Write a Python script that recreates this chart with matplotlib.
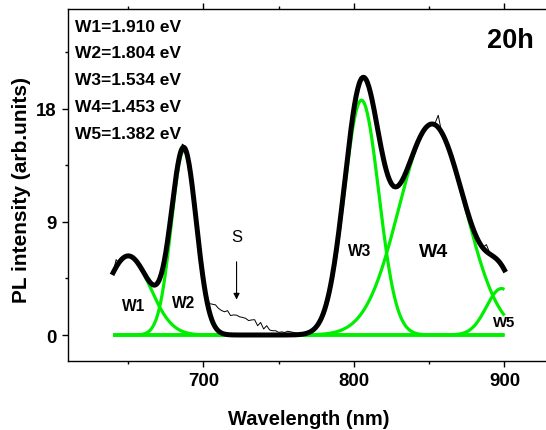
import numpy as np
import matplotlib
matplotlib.use("Agg")
import matplotlib.pyplot as plt

plt.rcParams['font.family'] = ['Liberation Sans', 'DejaVu Sans']

# Gaussian components of the fit (center nm, amplitude, sigma nm)
labels = ["W1", "W2", "W3", "W4", "W5"]
energies = ["1.910", "1.804", "1.534", "1.453", "1.382"]
centers = [650, 687, 805, 852, 898]
amps = [6.3, 14.7, 18.7, 16.8, 3.7]
sigmas = [14.5, 8.3, 11.5, 22.0, 10.0]

# measured spectrum (thin line), every 2 nm from 640 to 900
raw_wl = list(range(640, 901, 2))
raw_pl = [5.0, 6.0, 5.7, 6.1, 6.35, 6.35, 6.25, 6.05, 5.75, 5.45,
          5.0, 4.6, 4.25, 4.0, 3.95, 4.2, 4.85, 5.9, 7.35, 9.1,
          11.0, 12.8, 14.3, 15.2, 15.0, 14.0, 12.4, 10.3, 8.2, 6.1,
          4.4, 3.1, 2.5, 2.45, 2.4, 2.12, 1.95, 1.85, 1.94, 1.55,
          1.6, 1.58, 1.45, 1.4, 1.33, 1.15, 1.2, 1.22, 0.74, 1.0,
          0.48, 0.74, 0.4, 0.34, 0.34, 0.21, 0.25, 0.2, 0.3, 0.25,
          0.2, 0.15, 0.1, 0.08, 0.1, 0.18, 0.31, 0.52, 0.81, 1.25,
          1.84, 2.64, 3.67, 4.96, 6.51, 8.3, 10.28, 12.35, 14.43, 16.36,
          18.04, 19.6, 20.5, 20.55, 20.35, 19.73, 18.75, 17.55, 16.24, 14.96,
          13.82, 12.9, 12.2, 11.7, 11.75, 11.95, 12.3, 12.8, 13.39, 14.03,
          14.66, 15.35, 15.78, 16.22, 16.54, 16.74, 16.85, 16.9, 17.5, 16.3,
          15.73, 15.16, 14.49, 13.74, 12.94, 12.09, 11.24, 10.4, 9.59, 8.86,
          8.21, 7.66, 7.22, 7.0, 7.2, 6.6, 6.2, 6.13, 5.9, 5.59,
          5.18]

wl = np.arange(640, 900.5, 0.5)
comps = [a*np.exp(-(wl-c)**2/(2*s**2)) for c, a, s in zip(centers, amps, sigmas)]
fit = np.sum(comps, axis=0)

W, H = 546, 431
fig = plt.figure(figsize=(W/100, H/100), dpi=100)
ax = fig.add_axes([68/W, 1-362/H, 511.7/W, 352/H])
green = '#00ee00'
for c in comps:
    ax.plot(wl, c, color=green, lw=2.3, solid_capstyle='butt', zorder=2)
ax.plot(raw_wl, raw_pl, color='black', lw=0.7, zorder=3)
ax.plot(wl, fit, color='black', lw=3.6, zorder=4)

ax.set_xlim(610, 950)
ax.set_ylim(-2.07, 25.96)
ax.set_xticks([700, 800, 900])
ax.set_xticks([650, 750, 850, 950], minor=True)
ax.set_yticks([0, 9, 18])
ax.set_yticks([4.5, 13.5, 22.5], minor=True)
for sp in ax.spines.values():
    sp.set_linewidth(1.0)
ax.tick_params(which='both', direction='out', top=True, right=False, width=1.0)
ax.tick_params(which='major', length=4.3, labelsize=13.4, pad=3.7)
ax.tick_params(which='minor', length=2.5)
for lab in ax.get_xticklabels() + ax.get_yticklabels():
    lab.set_fontweight('bold')

# energy list
for i, (lb, en) in enumerate(zip(labels, energies)):
    fig.text(75/W, 1-(27+26.9*i)/H, f"{lb}={en} eV", fontsize=12.5,
             fontweight='bold', ha='left', va='center')
fig.text(487/W, 1-48/H, "20h", fontsize=19.5, fontweight='bold', ha='left', va='baseline')

# peak labels (data coords)
def px2data(x, y):
    return 700 + (x-203.5)/1.505, (336-y)/12.556
pk_pos = [(133.3, 306), (183.3, 304), (360, 251.7), (433.8, 252.5), (503.8, 322.5)]
pk_size = [11.2, 11.2, 11.2, 14.0, 10.7]
for lb, (x, y), fs in zip(labels, pk_pos, pk_size):
    dx, dy = px2data(x, y)
    ax.text(dx, dy, lb, fontsize=fs, fontweight='bold', ha='center', va='center')

ax.text(722, 7.85, "S", fontsize=12, ha='center', va='center')
ax.annotate("", xy=(722, 2.6), xytext=(722, 6.05),
            arrowprops=dict(arrowstyle='-|>', color='black', lw=0.8, mutation_scale=9))

fig.text(308.7/W, 1-420/H, "Wavelength (nm)", fontsize=14.5, fontweight='bold',
         ha='center', va='center')
fig.text(22/W, 1-190.5/H, "PL intensity (arb.units)", fontsize=15, fontweight='bold',
         ha='center', va='center', rotation=90)

fig.savefig("out.png", dpi=100)
